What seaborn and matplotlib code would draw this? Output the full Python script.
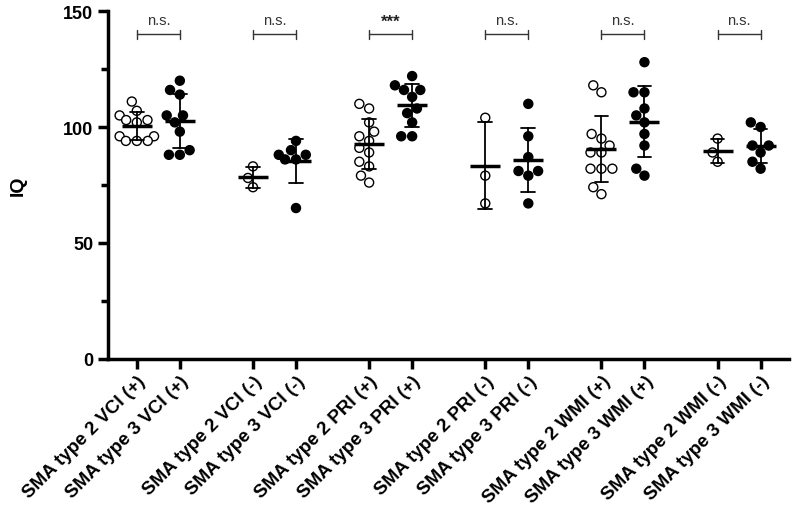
import numpy as np
import pandas as pd
import seaborn as sns
import matplotlib.pyplot as plt

# IQ values (type 2 = open circles, type 3 = filled)
vci_pos_t2 = [111, 107, 105, 103, 103, 102, 96, 96, 94, 94, 94]
vci_pos_t3 = [120, 116, 114, 105, 105, 102, 98, 90, 88, 88]
vci_neg_t2 = [83, 78, 74]
vci_neg_t3 = [94, 90, 88, 88, 86, 86, 65]
pri_pos_t2 = [110, 108, 102, 98, 96, 94, 91, 89, 85, 83, 79, 76]
pri_pos_t3 = [122, 118, 116, 116, 113, 108, 106, 102, 96, 96]
pri_neg_t2 = [104, 79, 67]
pri_neg_t3 = [110, 96, 87, 81, 81, 79, 67]
wmi_pos_t2 = [118, 115, 97, 95, 92, 89, 89, 82, 82, 82, 74, 71]
wmi_pos_t3 = [128, 115, 115, 108, 105, 102, 97, 92, 82, 79]
wmi_neg_t2 = [95, 89, 85]
wmi_neg_t3 = [102, 100, 92, 92, 89, 85, 82]

groups = ["VCI (+)", "VCI (-)", "PRI (+)", "PRI (-)", "WMI (+)", "WMI (-)"]
series = [(vci_pos_t2, vci_pos_t3), (vci_neg_t2, vci_neg_t3),
          (pri_pos_t2, pri_pos_t3), (pri_neg_t2, pri_neg_t3),
          (wmi_pos_t2, wmi_pos_t3), (wmi_neg_t2, wmi_neg_t3)]
sig = ["n.s.", "n.s.", "***", "n.s.", "n.s.", "n.s."]

gap = 2.7
rows = []
ticks, labels = [], []
for g, (name, (a, b)) in enumerate(zip(groups, series)):
    for t, vals in zip([2, 3], [a, b]):
        pos = g * gap + (t - 2)
        ticks.append(pos)
        labels.append(f"SMA type {t} {name}")
        for v in vals:
            rows.append({"pos": pos, "IQ": v, "type": str(t)})
df = pd.DataFrame(rows)

sns.set_style("ticks", {"axes.edgecolor": "black", "xtick.color": "black",
                        "ytick.color": "black", "text.color": "black",
                        "axes.labelcolor": "black"})
plt.rcParams['font.family'] = ['Liberation Sans', 'DejaVu Sans']

fig = plt.figure(figsize=(7.97, 5.10), dpi=100)
ax = fig.add_axes([0.1355, 0.295, 0.855, 0.681])

sns.swarmplot(data=df, x="pos", y="IQ", hue="type", native_scale=True,
              palette={"2": "white", "3": "black"}, edgecolor="black",
              linewidth=1, size=6.5, legend=False, ax=ax, zorder=2)
sns.pointplot(data=df, x="pos", y="IQ", native_scale=True, errorbar="sd",
              color="black", linestyle="none", marker="_", markersize=22,
              markeredgewidth=2.5, capsize=0.32, err_kws={"linewidth": 1.3},
              ax=ax, zorder=3)

# significance brackets
for g, s in enumerate(sig):
    x1, x2 = g * gap, g * gap + 1
    ax.plot([x1, x2], [140, 140], color="#333333", lw=1)
    ax.plot([x1, x1], [138, 142], color="#333333", lw=1)
    ax.plot([x2, x2], [138, 142], color="#333333", lw=1)
    if s == "***":
        ax.text((x1 + x2) / 2, 142.5, s, ha="center", va="bottom", fontsize=12,
                fontweight="bold", color="#222222")
    else:
        ax.text((x1 + x2) / 2, 143, s, ha="center", va="bottom", fontsize=10.5,
                color="#333333")

ax.set_ylim(0, 150)
ax.set_xlim(-0.67, 15.17)
ax.set_yticks([0, 50, 100, 150])
ax.set_yticks([25, 75, 125], minor=True)
ax.set_xticks(ticks)
ax.set_xticklabels(labels, rotation=45, ha="right", rotation_mode="anchor",
                   fontsize=13.5, fontweight="bold")
for lab in ax.get_yticklabels():
    lab.set_fontweight("bold")
    lab.set_fontsize(13)
ax.set_xlabel("")
ax.set_ylabel("IQ", fontsize=14, fontweight="bold", labelpad=26)
sns.despine(ax=ax)
for sp in ["left", "bottom"]:
    ax.spines[sp].set_linewidth(2.5)
    ax.spines[sp].set_color("black")
ax.tick_params(axis="both", which="major", width=2.5, length=7, color="black")
ax.tick_params(axis="y", which="minor", width=2.5, length=5, color="black")
ax.tick_params(axis="x", pad=3)

fig.savefig("out.png", dpi=100)
